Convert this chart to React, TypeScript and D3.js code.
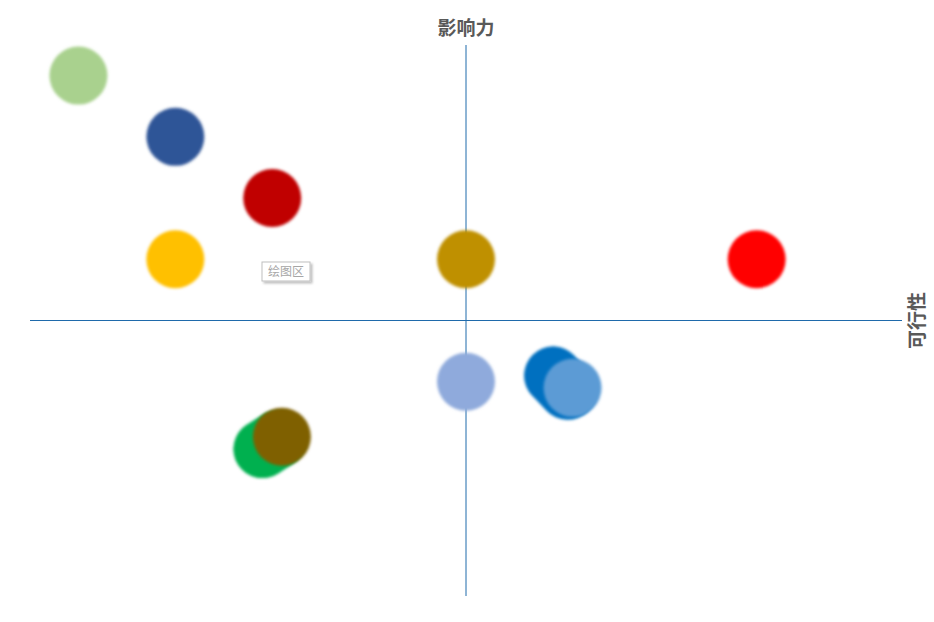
import React from 'react';
import * as d3 from 'd3';

// feasibility (x) / influence (y) for each bubble, drawn in this order
const feasibility = [-4, -3, -2, -3, 0, 3, 0, 0.9, 1.1, -2.1, -1.9];
const influence = [4, 3, 2, 1, 1, 1, -1, -0.9, -1.1, -2.1, -1.9];
const colors = [
  '#A9D18E', '#2F5597', '#C00000', '#FFC000', '#BF9000', '#FF0000',
  '#8FAADC', '#0070C0', '#5B9BD5', '#00B050', '#7F6000',
];
// bubbles that smear toward the next one (overlapping pairs)
const trails = [7, 9];
const xTitle = '可行性';
const yTitle = '影响力';
const plotLabel = '绘图区';

const W = 934;
const H = 622;
const plot = { left: 30, right: 902, top: 45, bottom: 596 };

export default function App() {
  const x = d3.scaleLinear().domain([-4.5, 4.5]).range([plot.left, plot.right]);
  const y = d3.scaleLinear().domain([-4.5, 4.5]).range([plot.bottom, plot.top]);
  const points = feasibility.map((v, i) => ({ fx: v, fy: influence[i], color: colors[i] }));
  const font = '"Noto Sans CJK SC", "Noto Sans", sans-serif';
  const r = 29;

  return (
    <svg width={W} height={H} style={{ position: 'absolute', left: 0, top: 0, background: '#fff' }}>
      <defs>
        <filter id="soft" filterUnits="userSpaceOnUse" x={0} y={0} width={W} height={H}>
          <feGaussianBlur stdDeviation="1.6" />
        </filter>
        <filter id="shadow" x="-20%" y="-30%" width="150%" height="180%">
          <feDropShadow dx="2" dy="2" stdDeviation="1.2" floodColor="#000" floodOpacity="0.25" />
        </filter>
      </defs>

      {/* axes crossing at origin */}
      <line x1={x(0)} x2={x(0)} y1={plot.top} y2={plot.bottom} stroke="#1F6AAB" strokeWidth={1} />
      <line x1={plot.left} x2={plot.right} y1={y(0)} y2={y(0)} stroke="#1F6AAB" strokeWidth={1} />

      {points.map((p, i) => {
        const next = points[i + 1];
        return (
          <g key={i} filter="url(#soft)">
            {trails.includes(i) && next ? (
              <line
                x1={x(p.fx)} y1={y(p.fy)} x2={x(next.fx) - 5} y2={y(next.fy) + 3}
                stroke={p.color} strokeWidth={r * 2} strokeLinecap="round"
              />
            ) : null}
            <circle cx={x(p.fx)} cy={y(p.fy)} r={r} fill={p.color} />
          </g>
        );
      })}

      <text x={x(0)} y={35} textAnchor="middle" fontFamily={font} fontSize={19} fontWeight={700} fill="#595959">
        {yTitle}
      </text>
      <text
        transform={`translate(${924},${y(0)}) rotate(-90)`}
        textAnchor="middle"
        fontFamily={font}
        fontSize={19}
        fontWeight={700}
        fill="#595959"
      >
        {xTitle}
      </text>

      <g transform="translate(262,262)">
        <rect width={48} height={19} fill="#fff" stroke="#bfbfbf" strokeWidth={1} filter="url(#shadow)" />
        <text x={24} y={14} textAnchor="middle" fontFamily={font} fontSize={12} fill="#a6a6a6">
          {plotLabel}
        </text>
      </g>
    </svg>
  );
}
